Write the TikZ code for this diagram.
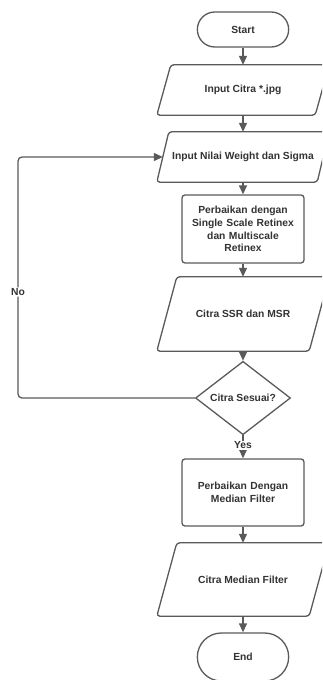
\documentclass[tikz,border=0pt]{standalone}
\usepackage{fontspec}
\setmainfont{Liberation Sans}
\usetikzlibrary{shapes.geometric,shapes.misc,arrows.meta}
\definecolor{lc}{HTML}{5A5A5A}
\definecolor{tc}{HTML}{333333}
\newcommand\ioshape[2]{\draw[line, rounded corners=3pt] ([xshift=#2]#1.north west) -- ([xshift=#2]#1.north east) -- ([xshift=-#2]#1.south east) -- ([xshift=-#2]#1.south west) -- cycle;}
\begin{document}
\begin{tikzpicture}[x=1pt,y=-1pt,
 line/.style={draw=lc, line width=1.3pt},
 arr/.style={line, -{Triangle[width=8pt,length=9pt]}},
 txt/.style={font=\bfseries\fontsize{10.3}{12.8}\selectfont, text=tc, align=center},
 term/.style={txt, draw=lc, line width=1.3pt, rounded rectangle, minimum width=98pt, minimum height=35pt},
 proc/.style={txt, draw=lc, line width=1.3pt, rounded corners=3pt, minimum width=122pt, text width=115pt, inner sep=3pt},
 io/.style={txt, inner sep=0pt},
 dec/.style={txt, draw=lc, line width=1.3pt, diamond, inner sep=0pt, minimum width=95pt, minimum height=72pt},
 lbl/.style={txt, fill=white, inner sep=1pt}
]
\useasboundingbox (0,0) rectangle (322,680);
\fill[white] (0,0) rectangle (322,680);
\clip (0,0) rectangle (322,680);
\node[term] (start) at (243,29.5) {Start};
\node[io, minimum width=158pt, minimum height=50pt] (in1) at (243,90) {Input Citra *.jpg};
\ioshape{in1}{7}
\node[io, minimum width=160pt, minimum height=50pt] (in2) at (243,157) {Input Nilai Weight dan Sigma};
\ioshape{in2}{6}
\node[proc, minimum height=68pt] (p1) at (243,229) {Perbaikan dengan\\Single Scale Retinex\\dan Multiscale\\Retinex};
\node[io, minimum width=152pt, minimum height=74pt] (o1) at (243,314) {Citra SSR dan MSR};
\ioshape{o1}{10}
\node[dec] (d) at (243,398) {Citra Sesuai?};
\node[proc, minimum height=67pt] (p2) at (243,492.5) {Perbaikan Dengan\\Median Filter};
\node[io, minimum width=152pt, minimum height=73pt] (o2) at (243,579.5) {Citra Median Filter};
\ioshape{o2}{10}
\node[term, minimum height=48pt] (end) at (243,657) {End};
\coordinate (nb) at (18,398);
\coordinate (nt) at (18,157);
\draw[arr] (start.south) -- (in1.north);
\draw[arr] (in1.south) -- (in2.north);
\draw[arr] (in2.south) -- (p1.north);
\draw[arr] (p1.south) -- (o1.north);
\draw[arr] (o1.south) -- (d.north);
\draw[arr] (d.south) -- node[lbl, pos=0.44] {Yes} (p2.north);
\draw[arr] (p2.south) -- (o2.north);
\draw[arr] (o2.south) -- (end.north);
\draw[arr, rounded corners=4pt] (d.west) -- (nb) -- node[lbl, pos=0.44] {No} (nt) -- (in2.west);
\end{tikzpicture}
\end{document}
